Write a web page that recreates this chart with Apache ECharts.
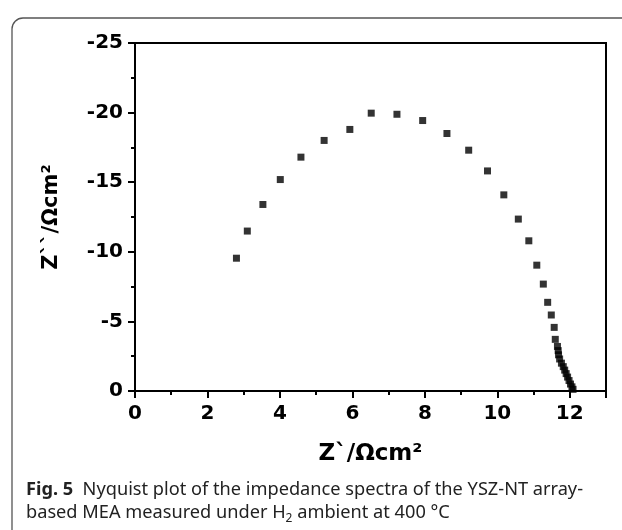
<!DOCTYPE html>
<html>
<head>
<meta charset="utf-8">
<script src="https://cdn.jsdelivr.net/npm/echarts@6/dist/echarts.min.js"></script>
<style>
html,body{margin:0;padding:0;background:#fff;}
#chart{width:622px;height:530px;}
</style>
</head>
<body>
<div id="chart"></div>
<script>
// Real part Z` (Ωcm²)
var zReal = [2.80, 3.10, 3.53, 4.01, 4.58, 5.22, 5.93, 6.52, 7.23, 7.94, 8.61, 9.21, 9.73, 10.18, 10.58, 10.87, 11.09, 11.27, 11.39, 11.49, 11.57, 11.60, 11.66, 11.68, 11.69, 11.72, 11.77, 11.82, 11.86, 11.90, 11.94, 11.98, 12.02, 12.06, 12.09];
// Imaginary part Z`` (Ωcm²)
var zImag = [-9.54, -11.49, -13.40, -15.19, -16.80, -18.00, -18.79, -19.96, -19.88, -19.43, -18.50, -17.30, -15.81, -14.09, -12.35, -10.79, -9.04, -7.68, -6.37, -5.46, -4.57, -3.71, -3.2, -2.9, -2.6, -2.3, -2.0, -1.75, -1.5, -1.25, -1.0, -0.75, -0.5, -0.3, -0.12];
var xTicks = [0, 2, 4, 6, 8, 10, 12];
var yTicks = [-25, -20, -15, -10, -5, 0];
var xTitle = 'Z`/Ωcm²';
var yTitle = 'Z``/Ωcm²';
var captionLabel = 'Fig. 5';
var captionLine1 = 'Nyquist plot of the impedance spectra of the YSZ-NT array-';
var captionLine2a = 'based MEA measured under H';
var captionSub = '2';
var captionLine2b = ' ambient at 400 °C';

var points = zReal.map(function (x, i) { return [x, zImag[i]]; });

var chart = echarts.init(document.getElementById('chart'), null, {renderer: 'canvas'});
var boldFont = '"DejaVu Sans", sans-serif';
var capFont = '"Noto Sans", "Open Sans", sans-serif';
var axisFont = {fontFamily: boldFont, fontWeight: 'bold', fontSize: 20, color: '#000'};
chart.setOption({
  animation: false,
  backgroundColor: '#fff',
  grid: {left: 135, top: 43, right: 16, bottom: 139, show: true, borderColor: '#000', borderWidth: 2, backgroundColor: 'transparent'},
  xAxis: {
    type: 'value', min: 0, max: 13, interval: 2,
    name: xTitle, nameLocation: 'middle', nameGap: 52,
    nameTextStyle: {fontFamily: boldFont, fontWeight: 'bold', fontSize: 23, color: '#000'},
    axisLine: {show: true, onZero: false, lineStyle: {color: '#000', width: 2}},
    axisTick: {show: true, inside: false, length: 7, lineStyle: {color: '#000', width: 2}},
    minorTick: {show: true, splitNumber: 2, length: 4, lineStyle: {color: '#000', width: 2}},
    splitLine: {show: false},
    axisLabel: Object.assign({margin: 13, formatter: function (v) { return xTicks.indexOf(v) >= 0 ? String(v) : ''; }}, axisFont)
  },
  yAxis: {
    type: 'value', min: -25, max: 0, interval: 5, inverse: true,
    name: yTitle, nameLocation: 'middle', nameGap: 73, nameRotate: 90,
    nameTextStyle: {fontFamily: boldFont, fontWeight: 'bold', fontSize: 21, color: '#000'},
    axisLine: {show: true, onZero: false, lineStyle: {color: '#000', width: 2}},
    axisTick: {show: true, inside: false, length: 7, lineStyle: {color: '#000', width: 2}},
    minorTick: {show: true, splitNumber: 2, length: 4, lineStyle: {color: '#000', width: 2}},
    splitLine: {show: false},
    axisLabel: Object.assign({margin: 12, formatter: function (v) { return yTicks.indexOf(v) >= 0 ? String(v) : ''; }}, axisFont)
  },
  series: [{
    type: 'scatter',
    data: points,
    symbol: 'rect',
    symbolSize: 7,
    itemStyle: {color: '#000'}
  }],
  graphic: [
    {type: 'rect', left: 9.5, top: 15.5, shape: {width: 700, height: 600, r: 11}, style: {fill: 'none', stroke: '#555', lineWidth: 1.3}, silent: true},
    {type: 'text', left: 26, top: 478, style: {
      text: '{b|' + captionLabel + '}  ' + captionLine1 + '\n' + captionLine2a + '{sub|' + captionSub + '}' + captionLine2b,
      fontFamily: capFont, fontSize: 18.2, fill: '#222', lineHeight: 23.3,
      rich: {
        b: {fontFamily: capFont, fontWeight: 'bold', fontSize: 18.2, fill: '#222', lineHeight: 23.3},
        sub: {fontFamily: capFont, fontSize: 12, fill: '#222', verticalAlign: 'bottom', padding: [7, 0, 0, 0], lineHeight: 23.3}
      }
    }}
  ]
});
</script>
</body>
</html>
